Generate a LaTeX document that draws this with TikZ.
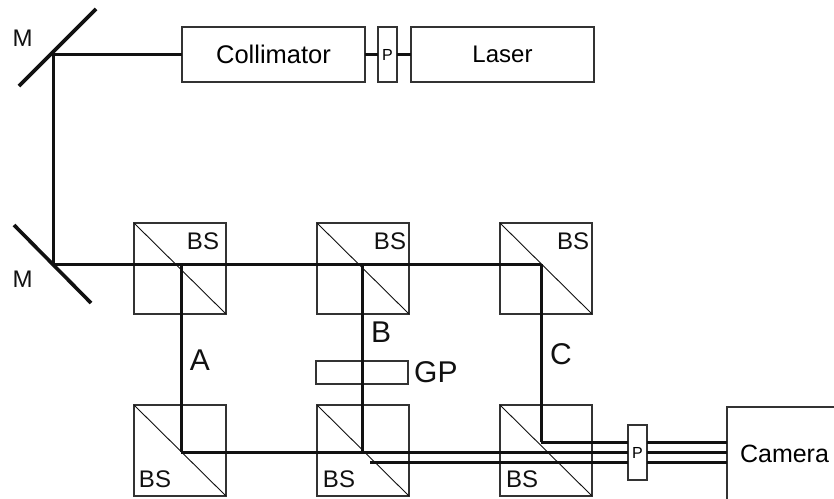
\documentclass[tikz,border=0pt]{standalone}
\usepackage{fontspec}
\setmainfont{Liberation Sans}
\usetikzlibrary{positioning}
\definecolor{Ink}{HTML}{111111}
\definecolor{Edge}{HTML}{333333}
\tikzset{
  optbox/.style={draw=Edge,line width=1.3pt,fill=white,inner sep=0pt,outer sep=0pt,anchor=north west},
  bscube/.style={draw=Edge,line width=1.3pt,inner sep=0pt,outer sep=0pt,minimum width=92pt,minimum height=91pt,anchor=north west},
  beam/.style={draw=Ink,line width=3pt},
  mirror/.style={draw=Ink,line width=3.6pt},
  split/.style={draw=Ink,line width=0.9pt},
  bigtext/.style={font=\fontsize{30}{30}\selectfont,text=Ink,inner sep=0pt},
  bstext/.style={font=\fontsize{24}{24}\selectfont,text=Ink,inner sep=0pt},
}
\begin{document}
\begin{tikzpicture}[x=1pt,y=-1pt,every node/.style={align=center}]
      \useasboundingbox (0,0) rectangle (834,498);
      \clip (0,0) rectangle (834,498);

      \node[bscube] (bs1) at (134,223) {};
      \node[bscube] (bs2) at (317,223) {};
      \node[bscube] (bs3) at (500,223) {};
      \node[bscube] (bs4) at (134,405) {};
      \node[bscube] (bs5) at (317,405) {};
      \node[bscube] (bs6) at (500,405) {};
      \foreach \x in {bs1,bs2,bs3,bs4,bs5,bs6}
        \draw[split] (\x.north west) -- (\x.south east);

      \node[optbox,minimum width=183pt,minimum height=55pt,font=\fontsize{25.5}{25.5}\selectfont] (collimator) at (182,27) {Collimator};
      \node[optbox,minimum width=19pt,minimum height=55pt,font=\fontsize{16}{16}\selectfont] (p1) at (378,27) {P};
      \node[optbox,minimum width=183pt,minimum height=55pt,font=\fontsize{24}{24}\selectfont] (laser) at (411,27) {Laser};
      \node[optbox,minimum width=92pt,minimum height=23pt] (gp) at (316,361) {};
      \node[optbox,minimum width=19pt,minimum height=55pt,font=\fontsize{16}{16}\selectfont] (p2) at (628,425) {P};
      \node[optbox,minimum width=115pt,minimum height=97pt,text depth=4pt,font=\fontsize{25}{25}\selectfont] (camera) at (727,407) {Camera};

      % beam corners
      \coordinate (m1) at (53,54);
      \coordinate (m2) at (53,264);
      \coordinate (m1a) at (96,9);
      \coordinate (m1b) at (19,86);
      \coordinate (m2a) at (14,225);
      \coordinate (m2b) at (91,303);
      \coordinate (a1) at (181,264);
      \coordinate (b1) at (362,264);
      \coordinate (c1) at (541,264);
      \coordinate (a2) at (181,452);
      \coordinate (b2) at (362,452);
      \coordinate (c2) at (541,442);
      \coordinate (d2) at (370,462);

      \draw[mirror] (m1a) -- (m1b);
      \draw[mirror] (m2a) -- (m2b);

      \foreach \x/\y in {m1/m2,m2/c1,a1/a2,b1/b2,c1/c2}
        \draw[beam] (\x) -- (\y);
      \draw[beam] (m1) -- (m1 -| collimator.west);
      \draw[beam] (collimator.east) -- (p1.west);
      \draw[beam] (p1.east) -- (laser.west);
      \foreach \x in {a2,c2,d2} {
        \draw[beam] (\x) -- (\x -| p2.west);
        \draw[beam] (\x -| p2.east) -- (\x -| camera.west);
      }

      \node[bstext,anchor=center] (lm1) at (22.5,38) {M};
      \node[bstext,anchor=center] (lm2) at (22.5,279) {M};
      \node[bstext,anchor=center] (lbs1) at (203,241) {BS};
      \node[bstext,anchor=center] (lbs2) at (390,241) {BS};
      \node[bstext,anchor=center] (lbs3) at (573,241) {BS};
      \node[bstext,anchor=center] (lbs4) at (155,479) {BS};
      \node[bstext,anchor=center] (lbs5) at (339,479) {BS};
      \node[bstext,anchor=center] (lbs6) at (522,479) {BS};
      \node[bigtext,anchor=center] (la) at (200,360) {A};
      \node[bigtext,anchor=center] (lb) at (381,332) {B};
      \node[bigtext,anchor=center] (lc) at (561,354) {C};
      \node[bigtext,anchor=west] (lgp) at (414,372) {GP};
\end{tikzpicture}
\end{document}
